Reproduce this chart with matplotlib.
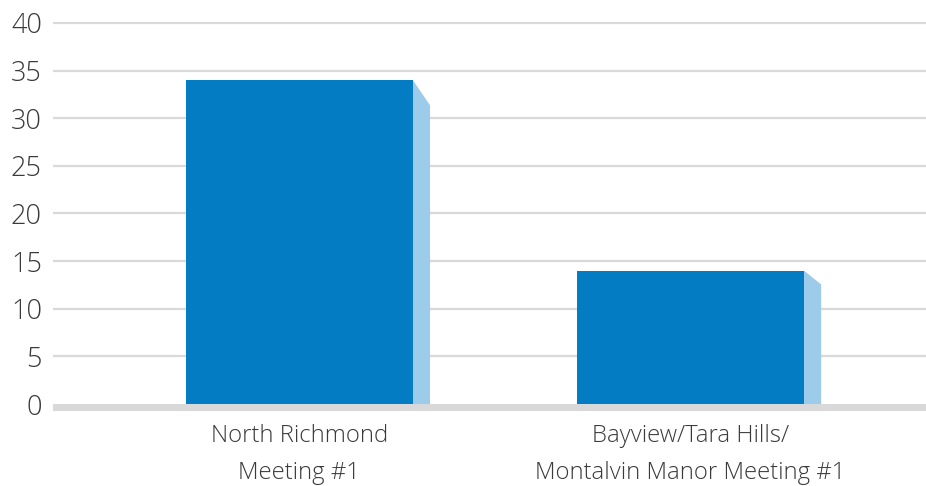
import matplotlib
matplotlib.use("Agg")
import matplotlib.pyplot as plt
from matplotlib.patches import Polygon

categories = ["North Richmond\nMeeting #1", "Bayview/Tara Hills/\nMontalvin Manor Meeting #1"]
values = [34, 14]
yticks = [0, 5, 10, 15, 20, 25, 30, 35, 40]

FRONT = "#047CC4"
SIDE = "#9DCCEA"
GRID = "#D9D9D9"
INK = "#3A3A3A"

plt.rcParams["font.family"] = ["Open Sans", "DejaVu Sans"]

fig = plt.figure(figsize=(9.26, 4.86), dpi=100)
ax = fig.add_axes([53/926, 75/486, 873/926, (464-75)/486])

width = 0.58
depth = 0.044  # side face width in x units
floor = 0.73
xs = list(range(len(values)))
ax.bar(xs, values, width=width, color=FRONT, zorder=3)
for x, v in zip(xs, values):
    r = x + width/2
    drop = 0.06*v + 0.6
    ax.add_patch(Polygon([(r, 0), (r, v), (r + depth, v - drop), (r + depth, 0)],
                         closed=True, color=SIDE, lw=0, zorder=2))

ax.axhspan(-floor, 0, color=GRID, lw=0, zorder=1)
for t in yticks[1:]:
    ax.axhline(t, color=GRID, lw=1.6, zorder=0)

ax.set_xlim(-0.63, 1.602)
ax.set_ylim(-floor, 40.1)
ax.set_yticks(yticks)
ax.set_yticklabels([str(t) for t in yticks], fontsize=19.5, color=INK, fontweight="light")
ax.set_xticks(xs)
ax.set_xticklabels(categories, fontsize=17.2, color=INK, fontweight="light", linespacing=1.75)
ax.tick_params(length=0)
ax.tick_params(axis="y", pad=8)
ax.tick_params(axis="x", pad=9)
for sp in ax.spines.values():
    sp.set_visible(False)

fig.savefig("out.png", dpi=100, facecolor="white")
